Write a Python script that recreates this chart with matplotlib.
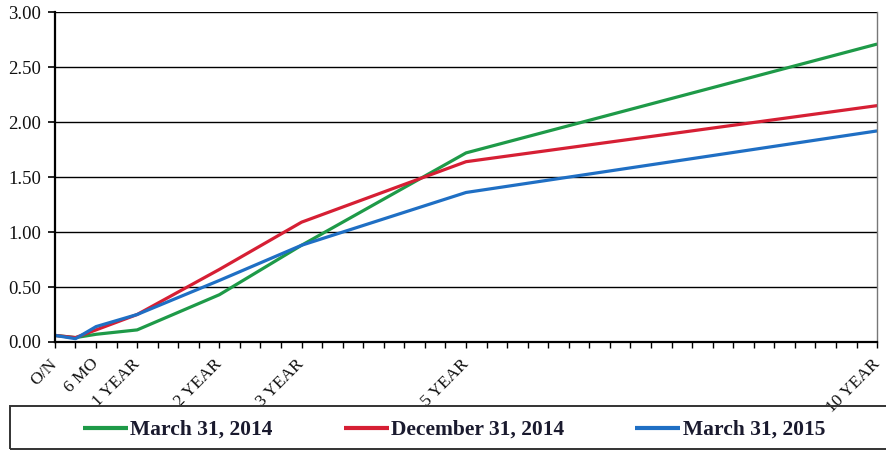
import matplotlib
matplotlib.use("Agg")
import matplotlib.pyplot as plt
from matplotlib.patches import Rectangle
import numpy as np

# maturities in years (overnight, 3 mo, 6 mo, 1y, 2y, 3y, 5y, 10y)
tenors = [0, 0.25, 0.5, 1, 2, 3, 5, 10]
label_tenors = [0, 0.5, 1, 2, 3, 5, 10]
label_names = ["O/N", "6 MO", "1 YEAR", "2 YEAR", "3 YEAR", "5 YEAR", "10 YEAR"]

mar_2014 = [0.06, 0.04, 0.07, 0.11, 0.43, 0.88, 1.72, 2.71]
dec_2014 = [0.06, 0.04, 0.11, 0.25, 0.66, 1.09, 1.64, 2.15]
mar_2015 = [0.06, 0.03, 0.14, 0.25, 0.56, 0.88, 1.36, 1.92]

series = [
    ("March 31, 2014", mar_2014, "#1e9a48"),
    ("December 31, 2014", dec_2014, "#d61f34"),
    ("March 31, 2015", mar_2015, "#1f6fc4"),
]

plt.rcParams["font.family"] = ["Liberation Serif", "DejaVu Serif"]

fig = plt.figure(figsize=(8.86, 4.51), dpi=100)
ax = fig.add_axes([0.062, 0.2417, 0.928, 0.7313])

for name, vals, color in series:
    ax.plot(tenors, vals, color=color, lw=2.3, label=name, solid_capstyle="butt")

ax.set_xlim(0, 10)
ax.set_ylim(0, 3.0)

# y axis: gridlines every 0.50
yt = np.arange(0, 3.01, 0.5)
ax.set_yticks(yt)
ax.set_yticklabels([f"{v:.2f}" for v in yt], fontsize=13.5, color="#111111")
ax.grid(axis="y", color="black", lw=1.0)
ax.tick_params(axis="y", direction="out", length=5, width=1.2, pad=5)

# x axis: a tick every quarter, labels only at the key tenors
qt = np.arange(0, 10.01, 0.25)
ax.set_xticks(qt)
names = {t: n for t, n in zip(label_tenors, label_names)}
ax.set_xticklabels([names.get(t, "") for t in qt], fontsize=12.5, color="#111111",
                   rotation=45, ha="right", va="center", rotation_mode="anchor")
ax.tick_params(axis="x", direction="out", length=4, width=1.0, pad=10)

for side in ["left", "bottom"]:
    ax.spines[side].set_linewidth(1.6)
    ax.spines[side].set_color("black")
ax.spines["right"].set_color("#777777")
ax.spines["right"].set_linewidth(1.0)
ax.spines["top"].set_visible(False)

# legend box runs past the right edge of the page
box_top, box_bottom = 406, 449
fig.patches.append(Rectangle((10 / 886, (451 - box_bottom) / 451), 0.995,
                             (box_bottom - box_top) / 451,
                             transform=fig.transFigure, fill=False,
                             edgecolor="#333333", lw=1.4))
leg = fig.legend(loc="center", bbox_to_anchor=(454 / 886, (451 - 430) / 451),
                 ncol=3, frameon=False,
                 prop={"weight": "bold", "size": 15.5}, handlelength=2.1,
                 handletextpad=0.1, columnspacing=3.3)
for t in leg.get_texts():
    t.set_color("#1a1a2e")
for h in leg.get_lines():
    h.set_linewidth(3)

fig.savefig("out.png", dpi=100)
